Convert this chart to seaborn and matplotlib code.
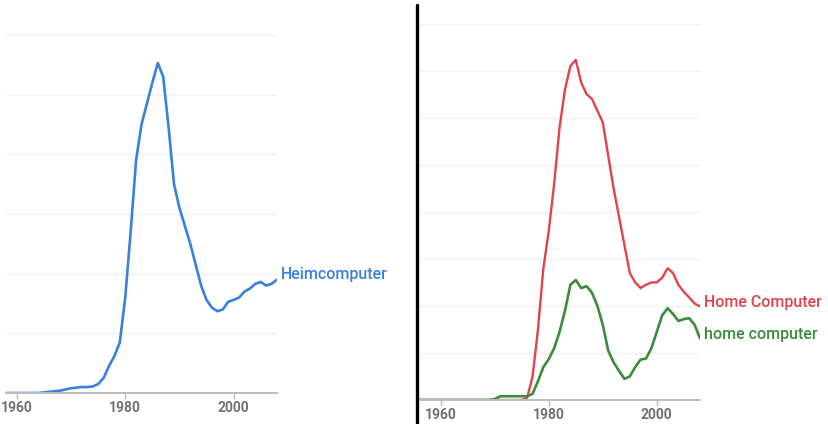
import pandas as pd
import matplotlib.pyplot as plt
import seaborn as sns
from matplotlib.lines import Line2D

sns.set_style('white')
plt.rcParams['font.family'] = ['Roboto', 'DejaVu Sans']

# Left panel: German "Heimcomputer" (gridline units)
years_de = list(range(1958, 2009))
heimcomputer = [0, 0, 0, 0, 0, 0, 0, 0.01, 0.02, 0.03,
                0.04, 0.06, 0.08, 0.09, 0.10, 0.10, 0.11, 0.15, 0.25, 0.45,
                0.62, 0.85, 1.60, 2.70, 3.90, 4.50, 4.85, 5.20, 5.53, 5.30,
                4.45, 3.50, 3.10, 2.80, 2.50, 2.15, 1.80, 1.56, 1.43, 1.37,
                1.40, 1.53, 1.56, 1.60, 1.70, 1.75, 1.83, 1.86, 1.80, 1.83,
                1.90]

# Right panel: English spellings
years_en = list(range(1955, 2009))
home_computer_cap = [0] * 21 + [0.05, 0.50, 1.50, 2.80, 3.60, 4.60, 5.80, 6.60, 7.10,
                                7.23, 6.75, 6.50, 6.40, 6.15, 5.90, 5.20, 4.50, 3.90, 3.30,
                                2.70, 2.50, 2.38, 2.45, 2.50, 2.50, 2.60, 2.80, 2.70, 2.45,
                                2.30, 2.18, 2.05, 1.99]
home_computer_low = [0] * 15 + [0.02, 0.08, 0.08, 0.08, 0.08, 0.08, 0.08, 0.13, 0.40,
                                0.70, 0.87, 1.10, 1.45, 1.90, 2.45, 2.55, 2.38, 2.42, 2.28,
                                2.00, 1.60, 1.05, 0.80, 0.62, 0.45, 0.50, 0.70, 0.86, 0.88,
                                1.10, 1.45, 1.80, 1.95, 1.83, 1.68, 1.72, 1.74, 1.60, 1.31]

blue = '#3a80dc'
red = '#e2434b'
green = '#3d8b3d'
tick_gray = '#727272'

df_de = pd.DataFrame({'year': years_de, 'value': heimcomputer})
df_en = pd.DataFrame({'year': years_en, 'Home Computer': home_computer_cap,
                      'home computer': home_computer_low})

fig = plt.figure(figsize=(8.29, 4.24), dpi=100)
ax1 = fig.add_axes([6 / 829, 31 / 424, 271 / 829, 373 / 424])
ax2 = fig.add_axes([417 / 829, 24 / 424, 283 / 829, 381 / 424])


def style_axis(ax, xlim, ylim, grid_top):
    ax.set_xlim(*xlim)
    ax.set_ylim(*ylim)
    for y in range(1, grid_top + 1):
        ax.axhline(y, color='#f0f0f0', lw=1, zorder=0)
    for s in ['top', 'right', 'left']:
        ax.spines[s].set_visible(False)
    ax.spines['bottom'].set_color('#bdbdbd')
    ax.spines['bottom'].set_linewidth(1.4)
    ax.set_xticks([1960, 1980, 2000])
    ax.set_xticklabels(['1960', '1980', '2000'])
    ax.tick_params(axis='x', length=4, width=1, color='#bdbdbd', pad=2,
                   labelsize=10, labelcolor=tick_gray, bottom=True)
    for lab in ax.get_xticklabels():
        lab.set_fontweight('semibold')
    ax.set_yticks([])
    ax.set_xlabel('')
    ax.set_ylabel('')


sns.lineplot(data=df_de, x='year', y='value', ax=ax1, color=blue, lw=1.9)
style_axis(ax1, (1958.0, 2008.0), (0, 6.25), 6)
ax1.annotate('Heimcomputer', xy=(years_de[-1], heimcomputer[-1]), xytext=(3, 4),
             textcoords='offset points', va='center', ha='left',
             color=blue, fontsize=11.5, fontweight='medium', annotation_clip=False)

sns.lineplot(data=df_en, x='year', y='Home Computer', ax=ax2, color=red, lw=1.7)
sns.lineplot(data=df_en, x='year', y='home computer', ax=ax2, color=green, lw=1.9)
style_axis(ax2, (1955.6, 2008.0), (0, 8.1), 8)
ax2.annotate('Home Computer', xy=(years_en[-1], home_computer_cap[-1]), xytext=(3, 3),
             textcoords='offset points', va='center', ha='left',
             color=red, fontsize=11.5, fontweight='medium', annotation_clip=False)
ax2.annotate('home computer', xy=(years_en[-1], home_computer_low[-1]), xytext=(3, 3),
             textcoords='offset points', va='center', ha='left',
             color=green, fontsize=11.5, fontweight='medium', annotation_clip=False)

# black divider between the two screenshots
fig.add_artist(Line2D([417 / 829, 417 / 829], [0, 1 - 5 / 424], color='black', lw=2.4))

fig.savefig('out.png', dpi=100)
